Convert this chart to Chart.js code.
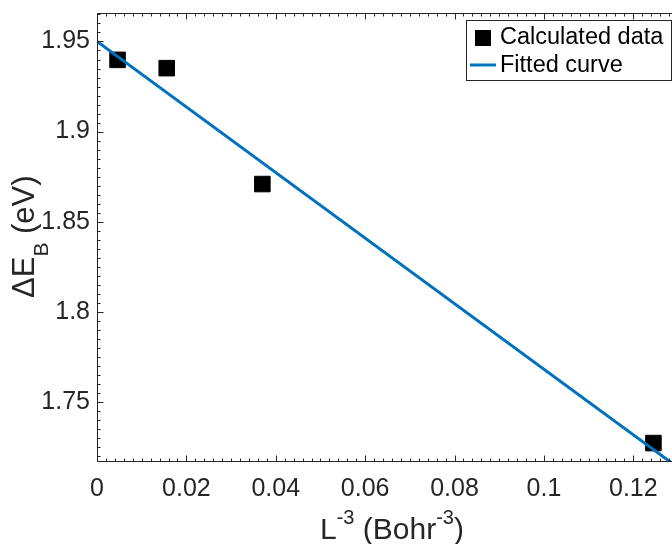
<!DOCTYPE html>
<html><head><meta charset="utf-8">
<script src="https://cdn.jsdelivr.net/npm/chart.js@4.4.1/dist/chart.umd.min.js"></script>
<style>
html,body{margin:0;padding:0;overflow:hidden;background:#fff;width:672px;height:544px}
#wrap{width:700px;height:544px}
</style>
</head><body>
<div id="wrap"><canvas id="c" width="700" height="544"></canvas></div>
<script>
// ---- data ----
const calcX = [0.0046, 0.0156, 0.0370, 0.1245];
const calcY = [1.9398, 1.9352, 1.8709, 1.7272];
const fitX = [0, 0.13];
const fitY = [1.9500, 1.7136];
const xTicks = [0, 0.02, 0.04, 0.06, 0.08, 0.1, 0.12];
const xTickLabels = ['0', '0.02', '0.04', '0.06', '0.08', '0.1', '0.12'];
const yTicks = [1.75, 1.8, 1.85, 1.9, 1.95];
const yTickLabels = ['1.75', '1.8', '1.85', '1.9', '1.95'];
const seriesNames = ['Calculated data', 'Fitted curve'];

const FONT = '"Liberation Sans", Arial, Helvetica, sans-serif';
const AX = '#262626';
const BLUE = '#0072BD';

const decor = {
  id: 'decor',
  afterDraw(chart) {
    const ctx = chart.ctx, a = chart.chartArea;
    const xs = chart.scales.x, ys = chart.scales.y;
    ctx.save();
    ctx.strokeStyle = AX; ctx.lineWidth = 1;
    const L = Math.round(a.left) + 0.5, R = Math.round(a.right) - 0.5;
    const T = Math.round(a.top) + 0.5, B = Math.round(a.bottom) - 0.5;
    ctx.beginPath();
    ctx.rect(L, T, R - L, B - T);
    ctx.stroke();
    // inward ticks
    ctx.beginPath();
    for (let i = 0; i <= 65; i++) {
      const v = i * 0.002;
      const px = Math.round(xs.getPixelForValue(v)) + 0.5;
      const len = (i % 10 === 0) ? 6 : 3;
      ctx.moveTo(px, B); ctx.lineTo(px, B - len);
      ctx.moveTo(px, T); ctx.lineTo(px, T + len);
    }
    for (let i = 0; i <= 60; i++) {
      const v = 1.70 + i * 0.005;
      if (v < ys.min - 1e-9 || v > ys.max + 1e-9) continue;
      const py = Math.round(ys.getPixelForValue(v)) + 0.5;
      const len = (i % 10 === 0) ? 6 : 3;
      ctx.moveTo(L, py); ctx.lineTo(L + len, py);
    }
    ctx.stroke();

    // axis titles
    ctx.fillStyle = AX;
    ctx.textBaseline = 'alphabetic';
    ctx.textAlign = 'left';
    const big = '30px ' + FONT, small = '20px ' + FONT;
    // x title: L^-3 (Bohr^-3)
    const partsX = [['L', big, 0], ['-3', small, -15], [' (Bohr', big, 0], ['-3', small, -15], [')', big, 0]];
    let x = 320, yb = 539;
    partsX.forEach(p => { ctx.font = p[1]; ctx.fillText(p[0], x, yb + p[2]); x += ctx.measureText(p[0]).width; });
    // y title: ΔE_B (eV)
    const bigY = '31px ' + FONT, smallY = '21px ' + FONT;
    ctx.save();
    ctx.translate(34, 298);
    ctx.rotate(-Math.PI / 2);
    const partsY = [['\u0394E', bigY, 0], ['B', smallY, 14], [' (eV)', bigY, 0]];
    x = 0;
    partsY.forEach(p => { ctx.font = p[1]; ctx.fillText(p[0], x, p[2]); x += ctx.measureText(p[0]).width; });
    ctx.restore();

    // legend
    const bx = 466.5, by = 20.5, bw = 205, bh = 60;
    ctx.fillStyle = '#fff';
    ctx.fillRect(bx, by, bw, bh);
    ctx.strokeStyle = AX;
    ctx.strokeRect(bx, by, bw, bh);
    ctx.fillStyle = '#000';
    ctx.fillRect(475, 30, 16, 16);
    ctx.strokeStyle = BLUE; ctx.lineWidth = 3;
    ctx.beginPath(); ctx.moveTo(470, 65); ctx.lineTo(496, 65); ctx.stroke();
    ctx.fillStyle = '#000';
    ctx.font = '23.5px ' + FONT;
    ctx.textBaseline = 'middle';
    ctx.fillText(seriesNames[0], 500, 38);
    ctx.fillText(seriesNames[1], 500, 66);
    ctx.restore();
  }
};

new Chart(document.getElementById('c'), {
  type: 'scatter',
  data: {
    datasets: [
      {
        label: seriesNames[1],
        type: 'line',
        data: fitX.map((v, i) => ({ x: v, y: fitY[i] })),
        borderColor: BLUE, borderWidth: 3, pointRadius: 0, fill: false, tension: 0
      },
      {
        label: seriesNames[0],
        data: calcX.map((v, i) => ({ x: v, y: calcY[i] })),
        pointStyle: 'rect', pointRadius: 11, pointHoverRadius: 11,
        backgroundColor: '#000', borderColor: '#000', borderWidth: 1
      }
    ]
  },
  options: {
    responsive: false, animation: false, devicePixelRatio: 1,
    layout: { padding: { top: 13, right: 22, left: 0, bottom: 0 } },
    plugins: { legend: { display: false }, tooltip: { enabled: false } },
    scales: {
      x: {
        type: 'linear', min: 0, max: 0.13,
        grid: { display: false, drawTicks: false },
        border: { display: false },
        afterBuildTicks: s => { s.ticks = xTicks.map(v => ({ value: v })); },
        afterFit: s => { s.height = 82; s.paddingLeft = 0; s.paddingRight = 0; },
        ticks: {
          padding: 12, color: AX, maxRotation: 0, autoSkip: false,
          font: { family: FONT, size: 25 },
          callback: (v, i) => xTickLabels[i]
        }
      },
      y: {
        type: 'linear', min: 1.7167, max: 1.9658,
        grid: { display: false, drawTicks: false },
        border: { display: false },
        afterBuildTicks: s => { s.ticks = yTicks.map(v => ({ value: v })); },
        afterFit: s => { s.width = 97; s.paddingTop = 0; s.paddingBottom = 0; },
        ticks: {
          padding: 7, color: AX, autoSkip: false,
          font: { family: FONT, size: 25 },
          callback: (v, i) => yTickLabels[i]
        }
      }
    }
  },
  plugins: [decor]
});
</script>
</body></html>
